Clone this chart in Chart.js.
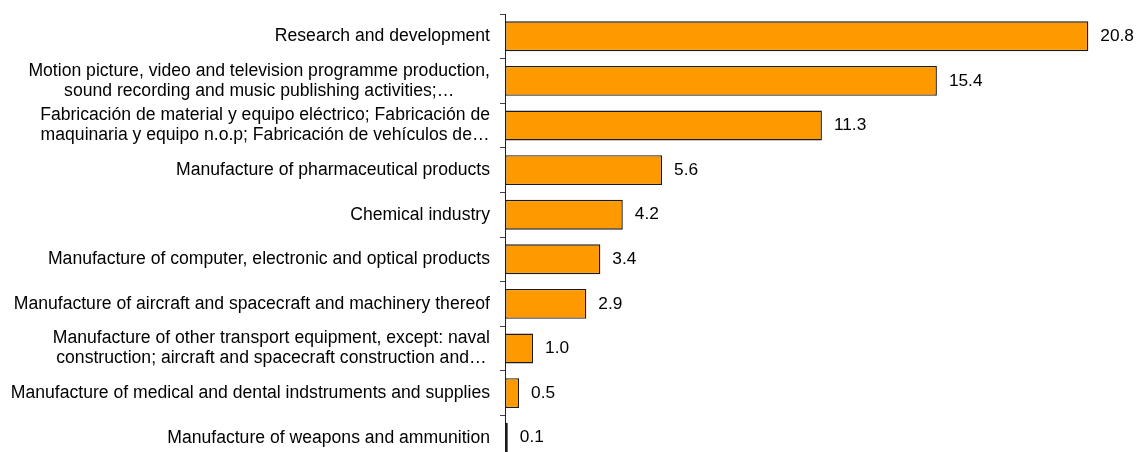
<!DOCTYPE html>
<html>
<head>
<meta charset="utf-8">
<script src="https://cdn.jsdelivr.net/npm/chart.js@4"></script>
<style>
  html, body { margin: 0; padding: 0; background: #fff; overflow: hidden; }
  #wrap { position: relative; width: 1137px; height: 462px; }
</style>
</head>
<body>
<div id="wrap"><canvas id="barChart"></canvas></div>
<script>
const categories = [
    ["Research and development"],
    ["Motion picture, video and television programme production,", "sound recording and music publishing activities;…"],
    ["Fabricación de material y equipo eléctrico; Fabricación de", "maquinaria y equipo n.o.p; Fabricación de vehículos de…"],
    ["Manufacture of pharmaceutical products"],
    ["Chemical industry"],
    ["Manufacture of computer, electronic and optical products"],
    ["Manufacture of aircraft and spacecraft and machinery thereof"],
    ["Manufacture of other transport equipment, except: naval", "construction; aircraft and spacecraft construction and…"],
    ["Manufacture of medical and dental indstruments and supplies"],
    ["Manufacture of weapons and ammunition"]
];
const values = [20.8, 15.4, 11.3, 5.6, 4.2, 3.4, 2.9, 1.0, 0.5, 0.1];

const labelFont = '17.6px "Liberation Sans", Arial, sans-serif';
const valueFont = '17.3px "Liberation Sans", Arial, sans-serif';
const axisX = 505; // posicion del eje vertical

// Etiquetas de categorias: bloque alineado a la derecha, lineas centradas entre si
const categoryLabels = {
    id: 'categoryLabels',
    afterDraw(chart) {
        const ctx = chart.ctx;
        const y = chart.scales.y;
        ctx.save();
        ctx.font = labelFont;
        ctx.fillStyle = '#000';
        ctx.textAlign = 'center';
        ctx.textBaseline = 'middle';
        categories.forEach((lines, i) => {
            const cy = y.getPixelForValue(i);
            const maxW = Math.max(...lines.map(l => ctx.measureText(l).width));
            const cx = y.right - 15 - maxW / 2;
            lines.forEach((l, j) => {
                ctx.fillText(l, cx, cy + (j - (lines.length - 1) / 2) * 20);
            });
        });
        ctx.restore();
    }
};

// Valores al final de cada barra
const valueLabels = {
    id: 'valueLabels',
    afterDatasetsDraw(chart) {
        const ctx = chart.ctx;
        const meta = chart.getDatasetMeta(0);
        ctx.save();
        ctx.font = valueFont;
        ctx.fillStyle = '#000';
        ctx.textAlign = 'left';
        ctx.textBaseline = 'middle';
        meta.data.forEach((bar, i) => {
            ctx.fillText(values[i].toFixed(1), bar.x + 12, bar.y);
        });
        ctx.restore();
    }
};

const ctx = document.getElementById('barChart').getContext('2d');
new Chart(ctx, {
    type: 'bar',
    data: {
        labels: categories,
        datasets: [{
            data: values,
            backgroundColor: '#FF9900',
            borderColor: '#1a1a1a',
            borderWidth: 1.4,
            borderSkipped: false,
            barPercentage: 0.67,
            categoryPercentage: 1.0
        }]
    },
    options: {
        indexAxis: 'y',
        responsive: true,
        maintainAspectRatio: false,
        animation: false,
        layout: { padding: { top: 14, right: 1, bottom: 2, left: 0 } },
        plugins: {
            legend: { display: false },
            tooltip: { enabled: false }
        },
        scales: {
            x: {
                display: false,
                min: 0,
                max: 22.5
            },
            y: {
                ticks: { display: false },
                afterFit(scale) { scale.width = axisX; },
                grid: {
                    offset: true,
                    drawOnChartArea: false,
                    drawTicks: true,
                    tickLength: 5,
                    color: '#444'
                },
                border: { display: true, color: '#222', width: 1 }
            }
        }
    },
    plugins: [categoryLabels, valueLabels]
});
</script>
</body>
</html>
